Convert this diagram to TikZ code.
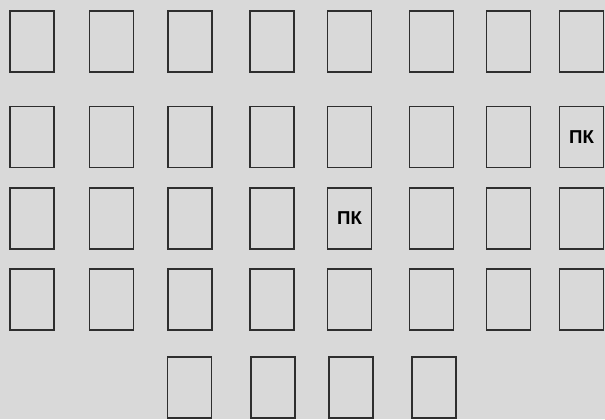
\documentclass[tikz,border=0pt]{standalone}
\usepackage{fontspec}
\newfontfamily\pkfont{Liberation Sans}
\definecolor{paper}{HTML}{D9D9D9}
\definecolor{ink}{HTML}{2E2E2E}
\tikzset{
	desk/.style={draw=ink, line width=1.1pt, minimum width=33pt, minimum height=46pt, inner sep=0pt},
	pklabel/.style={font=\pkfont\bfseries\fontsize{14}{16}\selectfont, text=black}
}
\begin{document}
\begin{tikzpicture}[x=0.75pt, y=-0.75pt]
		\fill[paper] (0, 0) rectangle (605, 419);
		\useasboundingbox (0, 0) rectangle (605, 419);
		% four full rows of desks
		\foreach \y [count=\r] in {41.5, 137, 218.5, 299.5}{
			\foreach \x [count=\c] in {32, 111.5, 190, 272, 349.5, 431.5, 508.5, 581.5}{
				\node[desk] (d\r-\c) at (\x, \y) {};
			}
		}
		% last row
		\foreach \x [count=\c from 3] in {189.5, 273, 351, 434}{
			\node[desk] (d5-\c) at (\x, 387.5) {};
		}
		\node[pklabel] (pk1) at (d2-8) {ПК};
		\node[pklabel] (pk2) at (d3-5) {ПК};
	\end{tikzpicture}
\end{document}
